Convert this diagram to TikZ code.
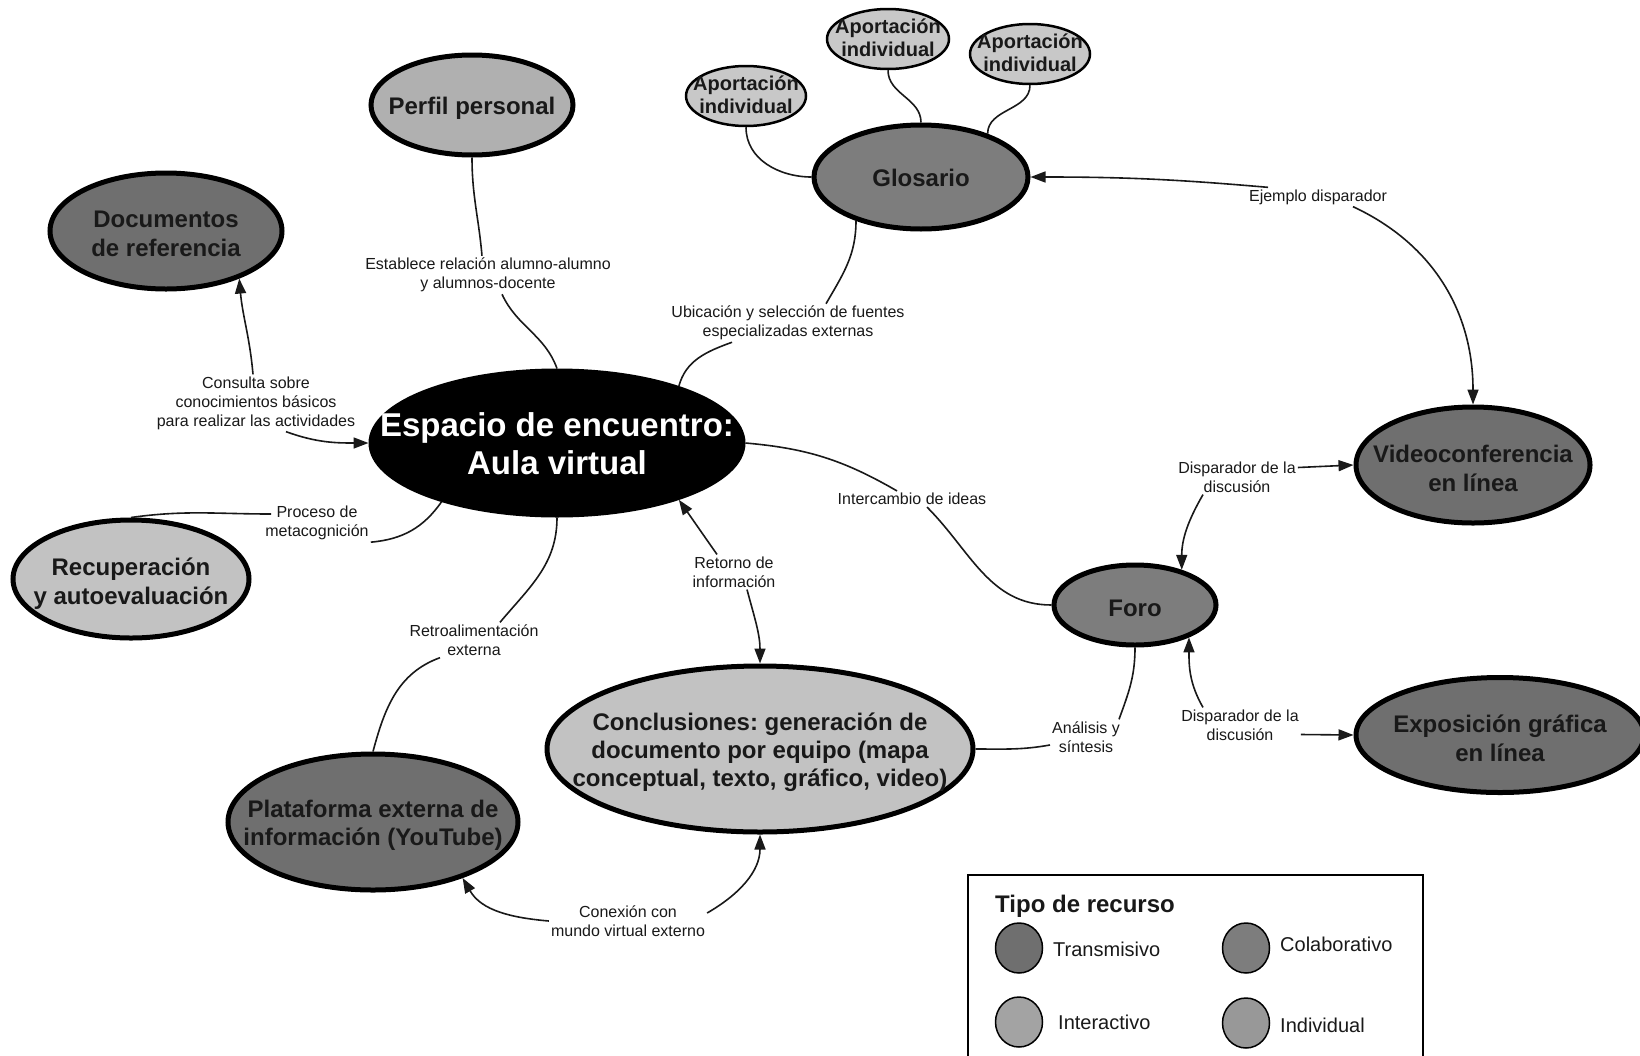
\documentclass[tikz,border=0pt]{standalone}
\usepackage{fontspec}
\setmainfont{Liberation Sans}
\usetikzlibrary{shapes.geometric,arrows.meta}
\frenchspacing
\definecolor{cTrans}{HTML}{6F6F6F}
\definecolor{cColab}{HTML}{7D7D7D}
\definecolor{cInter}{HTML}{A3A3A3}
\definecolor{cIndiv}{HTML}{989898}
\definecolor{cLight}{HTML}{C2C2C2}
\definecolor{cPerfil}{HTML}{B0B0B0}
\definecolor{cAport}{HTML}{C8C8C8}
\tikzset{
  bub/.style={ellipse, draw=black, line width=5pt, inner sep=0pt},
  ttl/.style={font=\bfseries\fontsize{24}{29}\selectfont, align=center, inner sep=0pt, text=black!90, yshift=-3pt},
  apt/.style={font=\bfseries\fontsize{20}{23}\selectfont, align=center, inner sep=0pt, text=black!90, yshift=1pt},
  lab/.style={font=\fontsize{16}{19}\selectfont, align=center, inner sep=2pt, text=black!90},
  con/.style={line width=1.6pt, draw=black!90},
  arr/.style={con, -{Triangle[length=15pt,width=11pt]}},
  legc/.style={ellipse, draw=black, line width=1.5pt, minimum width=47pt, minimum height=50pt, inner sep=0pt},
  legt/.style={font=\fontsize{20}{24}\selectfont, anchor=west, inner sep=0pt, text=black!90},
}
\begin{document}
\begin{tikzpicture}[x=1pt,y=1pt]
\useasboundingbox (0,0) rectangle (1640,-1055);
\fill[white] (0,0) rectangle (1640,-1055);

% ---- main nodes ----
\node[bub, fill=black, minimum width=372pt, minimum height=144pt] (aula) at (557,-443) {};
\node[ttl, yshift=2pt, text=white, font=\bfseries\fontsize{33}{38}\selectfont] (aulat) at (aula) {Espacio de encuentro:\\Aula virtual};

\node[bub, fill=cPerfil, minimum width=202pt, minimum height=100pt] (perfil) at (472,-105) {};
\node[ttl] (perfilt) at (perfil) {Perfil personal};

\node[bub, fill=cTrans, minimum width=232pt, minimum height=116pt] (docs) at (166,-231) {};
\node[ttl] (docst) at (docs) {Documentos\\de referencia};

\node[bub, fill=cLight, minimum width=236pt, minimum height=118pt] (recup) at (131,-579) {};
\node[ttl, yshift=-2pt] (recupt) at (recup) {Recuperación\\y autoevaluación};

\node[bub, fill=cColab, minimum width=214pt, minimum height=104pt] (glos) at (921,-177) {};
\node[ttl, yshift=2pt] (glost) at (glos) {Glosario};

\node[bub, line width=2.5pt, fill=cAport, minimum width=120pt, minimum height=60pt] (apa) at (746,-96) {};
\node[apt] (apat) at (apa) {Aportación\\individual};
\node[bub, line width=2.5pt, fill=cAport, minimum width=122pt, minimum height=60pt] (apb) at (888,-39) {};
\node[apt] (apbt) at (apb) {Aportación\\individual};
\node[bub, line width=2.5pt, fill=cAport, minimum width=120pt, minimum height=60pt] (apc) at (1030,-54) {};
\node[apt] (apct) at (apc) {Aportación\\individual};

\node[bub, fill=cTrans, minimum width=234pt, minimum height=116pt] (video) at (1473,-465) {};
\node[ttl] (videot) at (video) {Videoconferencia\\en línea};

\node[bub, fill=cColab, minimum width=162pt, minimum height=80pt] (foro) at (1135,-605) {};
\node[ttl] (forot) at (foro) {Foro};

\node[bub, fill=cTrans, minimum width=288pt, minimum height=115pt] (expo) at (1500,-735) {};
\node[ttl] (expot) at (expo) {Exposición gráfica\\en línea};

\node[bub, fill=cLight, minimum width=426pt, minimum height=166pt] (concl) at (760,-749) {};
\node[ttl, font=\bfseries\fontsize{24}{28}\selectfont] (conclt) at (concl) {Conclusiones: generación de\\documento por equipo (mapa\\conceptual, texto, gráfico, video)};

\node[bub, fill=cTrans, minimum width=290pt, minimum height=136pt] (plat) at (373,-822) {};
\node[ttl, font=\bfseries\fontsize{24}{28}\selectfont] (platt) at (plat) {Plataforma externa de\\información (YouTube)};

% ---- connector labels ----
\node[lab] (lest) at (488,-275) {Establece relación alumno-alumno\\y alumnos-docente};
\node[lab] (lubi) at (788,-323) {Ubicación y selección de fuentes\\especializadas externas};
\node[lab] (lej) at (1318,-197) {Ejemplo disparador};
\node[lab] (lcon) at (256,-403) {Consulta sobre\\conocimientos básicos\\para realizar las actividades};
\node[lab] (lpro) at (317,-523) {Proceso de\\metacognición};
\node[lab] (lret) at (474,-640) {Retroalimentación\\externa};
\node[lab] (lint) at (912,-499) {Intercambio de ideas};
\node[lab] (lrin) at (734,-572) {Retorno de\\información};
\node[lab] (lana) at (1086,-737) {Análisis y\\síntesis};
\node[lab] (ldia) at (1237,-477) {Disparador de la\\discusión};
\node[lab] (ldib) at (1240,-725) {Disparador de la\\discusión};
\node[lab] (lcx) at (628,-921) {Conexión con\\mundo virtual externo};

% ---- connectors ----
\draw[con] (perfil.south) to[out=-90,in=95] ([xshift=-6pt]lest.north);
\draw[con] ([xshift=14pt]lest.south) to[out=-65,in=110] (aula.north);

\draw[con] (glos.214) to[out=-90,in=60] ([xshift=38pt]lubi.north);
\draw[con] ([xshift=-56pt]lubi.south) to[out=200,in=75] (aula.25);

\draw[arr] ([xshift=-50pt]lej.north) to[out=175,in=0] (glos.east);
\draw[arr] ([xshift=35pt]lej.south) to[out=-25,in=90] (video.north);

\draw[arr] ([xshift=-3pt]lcon.north) to[out=95,in=-85] (docs.-33);
\draw[arr] ([xshift=30pt]lcon.south) to[out=-20,in=180] (aula.west);

\draw[con] (recup.north) to[out=8,in=180] ([yshift=9pt,xshift=8pt]lpro.west);
\draw[con] (lpro.south east) to[out=5,in=-125] (aula.-153);

\draw[con] (aula.south) to[out=-90,in=50] ([xshift=26pt]lret.north);
\draw[con] ([xshift=-34pt]lret.south) to[out=200,in=75] (plat.north);

\draw[con] (aula.east) to[out=-5,in=150] ([xshift=-15pt]lint.north);
\draw[con] ([xshift=15pt]lint.south) to[out=-45,in=180] (foro.west);

\draw[arr] ([xshift=-17pt]lrin.north) to[out=125,in=-55] (aula.-25);
\draw[arr] ([xshift=13pt]lrin.south) to[out=-75,in=90] (concl.north);

\draw[con] (concl.east) to[out=0,in=190] ([yshift=-8pt]lana.west);
\draw[con] ([xshift=33pt]lana.north) to[out=70,in=-90] (foro.south);

\draw[arr] ([yshift=9.5pt]ldia.east) -- (video.west);
\draw[arr] ([xshift=-34pt]ldia.south) to[out=-120,in=90] (foro.37);

\draw[arr] ([xshift=-37pt]ldib.north) to[out=120,in=-90] (foro.-31);
\draw[arr] ([yshift=-9.5pt]ldib.east) -- (expo.west);

\draw[arr] (lcx.west) to[out=175,in=-60] (plat.-32);
\draw[arr] ([yshift=8pt]lcx.east) to[out=30,in=-90] (concl.south);

\draw[con] (apa.south) to[out=-90,in=180] (glos.west);
\draw[con] (apb.south) to[out=-90,in=90] (glos.north);
\draw[con] (apc.south) to[out=-90,in=90] (glos.33);

% ---- legend ----
\node[draw=black, line width=2pt, minimum width=455pt, minimum height=184pt, anchor=north west, inner sep=0pt] (legend) at (967,-874) {};
\node[font=\bfseries\fontsize{24}{28}\selectfont, anchor=west, inner sep=0pt, text=black!90] (legtitle) at (995,-906) {Tipo de recurso};
\node[legc, fill=cTrans] (lga) at (1019,-948) {};
\node[legt] (lgat) at (1053,-949) {Transmisivo};
\node[legc, fill=cColab] (lgb) at (1246,-948) {};
\node[legt] (lgbt) at (1280,-944) {Colaborativo};
\node[legc, fill=cInter] (lgc) at (1019,-1022) {};
\node[legt] (lgct) at (1058,-1022) {Interactivo};
\node[legc, fill=cIndiv] (lgd) at (1246,-1023) {};
\node[legt] (lgdt) at (1280,-1025) {Individual};
\end{tikzpicture}
\end{document}
